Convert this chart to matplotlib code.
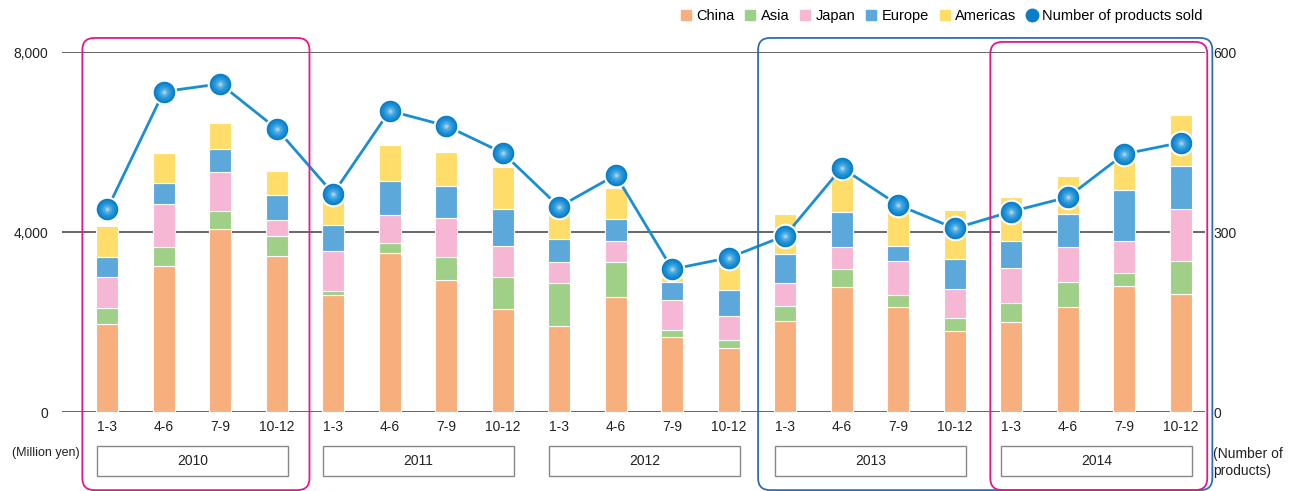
import numpy as np
from matplotlib import pyplot as plt
from matplotlib.patches import Patch, FancyBboxPatch, Rectangle
from matplotlib.lines import Line2D
from matplotlib.transforms import IdentityTransform, blended_transform_factory

quarters = ['1-3', '4-6', '7-9', '10-12'] * 5
years = ['2010', '2011', '2012', '2013', '2014']

china = [1950, 3240, 4070, 3460, 2610, 3530, 2930, 2300, 1910, 2560,
         1660, 1420, 2020, 2780, 2340, 1790, 1990, 2340, 2790, 2630]
asia = [370, 420, 390, 460, 90, 230, 520, 710, 950, 780,
        160, 180, 340, 400, 260, 300, 440, 540, 310, 720]
japan = [670, 960, 870, 340, 870, 620, 870, 690, 480, 450,
         670, 530, 510, 490, 760, 640, 770, 790, 700, 1170]
europe = [450, 460, 520, 560, 580, 750, 700, 820, 500, 490,
          400, 590, 650, 770, 340, 660, 590, 730, 1130, 950]
americas = [700, 670, 580, 530, 650, 810, 750, 920, 660, 700,
            100, 620, 870, 910, 850, 1090, 990, 850, 720, 1140]
products = [338, 534, 547, 472, 364, 502, 477, 432, 342, 395,
            238, 257, 294, 407, 345, 306, 334, 358, 430, 449]

series = [('China', china, '#F7AF7E'),
          ('Asia', asia, '#A0CF88'),
          ('Japan', japan, '#F5B7D4'),
          ('Europe', europe, '#5CA8DB'),
          ('Americas', americas, '#FFDD6A')]

plt.rcParams['font.family'] = ['Liberation Sans', 'DejaVu Sans']
fig = plt.figure(figsize=(12.93, 4.91), dpi=100)
ax = fig.add_axes([62 / 1293, 1 - 412 / 491, (1205 - 62) / 1293, 360 / 491])
ax2 = ax.twinx()

x = np.arange(len(quarters))
bottom = np.zeros(len(x))
for name, vals, col in series:
    ax.bar(x, vals, 0.39, bottom=bottom, color=col, edgecolor='white',
           linewidth=0.8, zorder=2)
    bottom += np.array(vals)

ax.set_xlim(-0.8, 19.43)
ax.set_ylim(0, 8000)
ax.set_yticks([0, 4000, 8000])
ax.set_yticklabels(['0', '4,000', '8,000'])
ax.set_xticks(x)
ax.set_xticklabels(quarters)
ax.tick_params(axis='both', length=0, labelsize=10, colors='#222222')
ax.tick_params(axis='y', pad=10)
ax.tick_params(axis='x', pad=6)
ax.grid(axis='y', color='#4d4d4d', linewidth=1.2, zorder=1)
ax.set_axisbelow(True)
for s in ax.spines.values():
    s.set_visible(False)

ax2.set_ylim(0, 600)
ax2.set_yticks([0, 300, 600])
ax2.tick_params(axis='y', length=0, labelsize=10, colors='#222222', pad=6)
for s in ax2.spines.values():
    s.set_visible(False)

ax2.plot(x, products, color='#1A8ED2', linewidth=2, zorder=3)
ax2.plot(x, products, 'o', color='#0A7DC9', markersize=17,
         markeredgecolor='white', markeredgewidth=1.5, zorder=4)
for ms, col in [(13, '#168BD2'), (10, '#2A97D9'), (7, '#48A8E0'), (4, '#74BEE8'), (2, '#A6D5F0')]:
    ax2.plot(x, products, 'o', color=col, markersize=ms, markeredgewidth=0, zorder=5)

# year boxes under the quarter labels
trans = blended_transform_factory(ax.transData, ax.transAxes)
for i, yr in enumerate(years):
    x0 = 4 * i - 0.18
    ax.add_patch(Rectangle((x0, -0.178), 3.38, 0.084, transform=trans, fill=False,
                           edgecolor='#888888', linewidth=1, clip_on=False))
    ax.text(x0 + 1.69, -0.136, yr, transform=trans, ha='center', va='center',
            fontsize=10, color='#222222')

ax.text(-0.044, -0.113, '(Million yen)', transform=ax.transAxes, ha='left', va='center',
        fontsize=9, color='#222222')
ax.text(1.007, -0.14, '(Number of\nproducts)', transform=ax.transAxes, ha='left', va='center',
        fontsize=10, color='#222222', linespacing=1.2)

# highlight frames around years
fig.canvas.draw()
frames = [(-0.44, 3.58, 1.039, '#E5178A'),
          (11.52, 19.56, 1.039, '#2E6DB4'),
          (15.63, 19.47, 1.028, '#E5178A')]
for xa, xb, top, col in frames:
    p0 = ax.transData.transform((xa, 0))
    p1 = ax.transData.transform((xb, 0))
    ytop = ax.transAxes.transform((0, top))[1]
    ybot = ax.transAxes.transform((0, -0.217))[1]
    fig.add_artist(FancyBboxPatch((p0[0], ybot), p1[0] - p0[0], ytop - ybot,
                                  boxstyle='round,pad=0,rounding_size=12',
                                  transform=IdentityTransform(), fill=False,
                                  edgecolor=col, linewidth=1.3, zorder=10))

handles = [Patch(color=col) for _, _, col in series]
handles.append(Line2D([], [], marker='o', color='#0A7DC9', linestyle='none', markersize=9))
labels = [name for name, _, _ in series] + ['Number of products sold']
fig.legend(handles, labels, loc='upper right', bbox_to_anchor=(1216 / 1293, 1.008),
           ncol=6, frameon=False, fontsize=10.5, handlelength=0.7, handleheight=0.7,
           handletextpad=0.35, columnspacing=0.75)

plt.savefig('out.png', dpi=100)
